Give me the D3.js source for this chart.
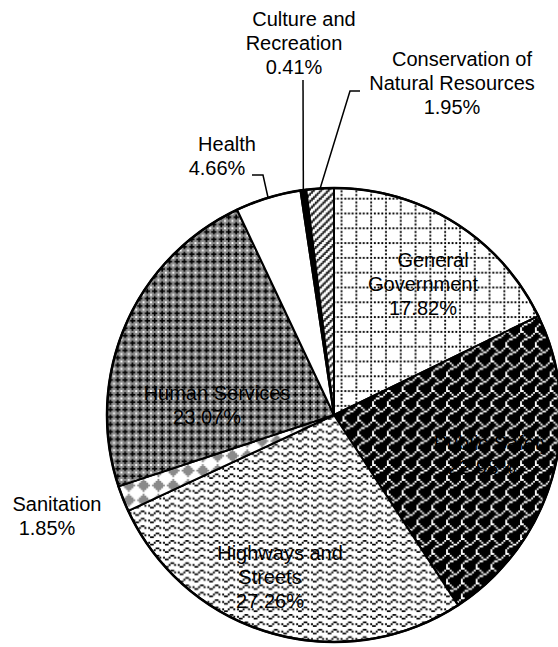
<!DOCTYPE html>
<html>
<head>
<meta charset="utf-8">
<script src="https://cdn.jsdelivr.net/npm/d3@7"></script>
<style>
  body { margin: 0; background: #fff; }
  text { font-family: "Liberation Sans", Arial, sans-serif; font-size: 20px; fill: #000; }
</style>
</head>
<body>
<div id="chart"></div>
<script>
// données : part de chaque fonction dans les dépenses (%)
const categories = ["General Government", "Public Safety", "Highways and Streets", "Sanitation",
                    "Human Services", "Health", "Culture and Recreation", "Conservation of Natural Resources"];
const shares = [17.82, 22.98, 27.26, 1.85, 23.07, 4.66, 0.41, 1.95];
const labelLines = [["General", "Government"], ["Public Safety"], ["Highways and", "Streets"], ["Sanitation"],
                    ["Human Services"], ["Health"], ["Culture and", "Recreation"], ["Conservation of", "Natural Resources"]];

const W = 558, H = 647;
const CX = 334, CY = 415, R = 227;
const TILE = 14.8;          // motifs 8x8 agrandis
const FIRST_LINE_SHIFT = 10;

// motifs 8x8 : un caractère par pixel, couleur prise dans la palette
const patterns = {
  dottedGrid: { pal: { "#": "#000", ".": "#fff" }, rows: [
    ".#.#.#.#", "........", ".......#", "........", ".......#", "........", ".......#", "........"] },
  shingle: { pal: { "#": "#fff", ".": "#000" }, rows: [
    "##......", "..#....#", "...#..#.", "....##..", "..##....", ".#......", "#.......", "#......."] },
  wave: { pal: { "#": "#000", ".": "#fff" }, rows: [
    "........", "...##...", "..#..#.#", "##......", "........", "...##...", "..#..#.#", "##......"] },
  solidDiamond: { pal: { "#": "#8a8a8a", ".": "#fff" }, rows: [
    "....#...", "...###..", "..#####.", ".#######", "..#####.", "...###..", "....#...", "........"] },
  trellis: { pal: { "k": "#000", "w": "#fff", "g": "#8c8c8c" }, rows: [
    "wgggwggg", "ggkgggkg", "gkkkgkkk", "ggkgggkg", "wgggwggg", "ggkgggkg", "gkkkgkkk", "ggkgggkg"] },
  upDiagonal: { pal: { "#": "#222", ".": "#fff" }, rows: [
    "#..##..#", "..##..##", ".##..##.", "##..##..", "#..##..#", "..##..##", ".##..##.", "##..##.."] }
};
const fills = ["url(#dottedGrid)", "url(#shingle)", "url(#wave)", "url(#solidDiamond)",
               "url(#trellis)", "#fff", "#000", "url(#upDiagonal)"];

// position des étiquettes : centre x, première ligne de base y
const labelPos = [
  { x: 423, y: 267 }, { x: 482, y: 450 }, { x: 270, y: 560 }, { x: 47, y: 511 },
  { x: 207, y: 400 }, { x: 217, y: 151 }, { x: 294, y: 26 }, { x: 452, y: 66 }
];
// lignes de rappel (points côté texte, la fin est calculée sur le bord du camembert)
const leaders = {
  5: [[252, 175], [263, 175]],
  6: [[303, 80]],
  7: [[360, 91], [350, 91]]
};

const svg = d3.select("#chart").append("svg").attr("width", W).attr("height", H);
const defs = svg.append("defs");

Object.entries(patterns).forEach(([id, p]) => {
  const pat = defs.append("pattern")
    .attr("id", id)
    .attr("patternUnits", "userSpaceOnUse")
    .attr("width", 8).attr("height", 8)
    .attr("patternTransform", `translate(8.5 4.7) scale(${TILE / 8})`);
  const paths = {};
  p.rows.forEach((row, y) => {
    row.split("").forEach((c, x) => {
      paths[c] = (paths[c] || "") + `M${x} ${y}h1v1h-1z`;
    });
  });
  Object.entries(paths).forEach(([c, d]) => {
    pat.append("path").attr("d", d).attr("fill", p.pal[c]);
  });
});

const data = categories.map((c, i) => ({ name: c, value: shares[i], i: i }));
const pie = d3.pie().sort(null).value(d => d.value);
const arcs = pie(data);
const arc = d3.arc().innerRadius(0).outerRadius(R);

const g = svg.append("g").attr("transform", `translate(${CX},${CY})`);

g.selectAll("path.slice")
  .data(arcs)
  .enter()
  .append("path")
  .attr("class", "slice")
  .attr("d", arc)
  .attr("fill", d => fills[d.data.i])
  .attr("stroke", "#000")
  .attr("stroke-width", 2)
  .attr("stroke-linejoin", "round");

g.append("circle").attr("r", R).attr("fill", "none").attr("stroke", "#000").attr("stroke-width", 2.5);

// lignes de rappel
arcs.forEach(a => {
  const pts = leaders[a.data.i];
  if (!pts) return;
  const mid = (a.startAngle + a.endAngle) / 2;
  const end = [CX + R * Math.sin(mid), CY - R * Math.cos(mid)];
  svg.append("path")
    .attr("d", d3.line()(pts.concat([end])))
    .attr("fill", "none")
    .attr("stroke", "#000")
    .attr("stroke-width", 1.5);
});

// étiquettes
arcs.forEach(a => {
  const i = a.data.i;
  const lines = labelLines[i].concat([d3.format(".2f")(a.data.value) + "%"]);
  const t = svg.append("text").attr("text-anchor", "middle");
  lines.forEach((l, k) => {
    t.append("tspan")
      .attr("x", labelPos[i].x + (k === 0 ? FIRST_LINE_SHIFT : 0))
      .attr("y", labelPos[i].y + k * 24)
      .text(l);
  });
});
</script>
</body>
</html>
